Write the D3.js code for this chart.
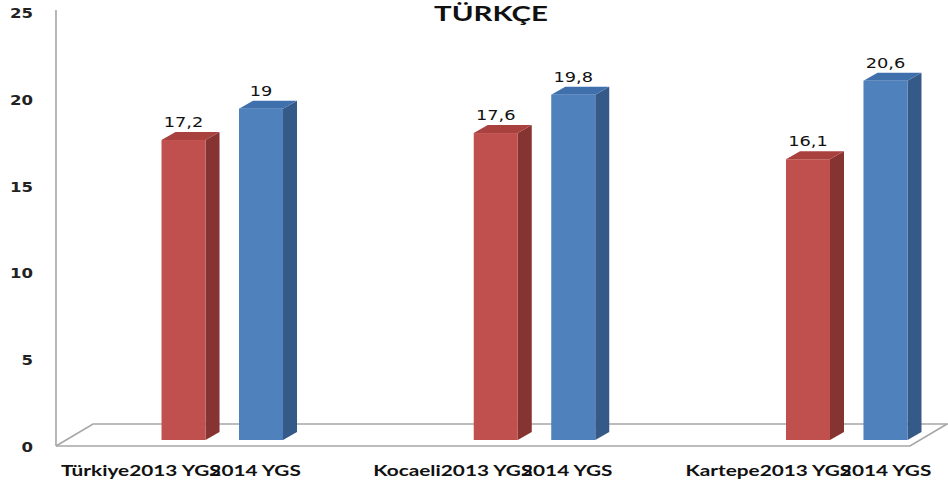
<!DOCTYPE html>
<html>
<head>
<meta charset="utf-8">
<script src="https://cdn.jsdelivr.net/npm/d3@7"></script>
<style>
  html, body { margin: 0; padding: 0; background: #ffffff; }
  svg { display: block; }
</style>
</head>
<body>
<svg id="chart" width="948" height="487"></svg>
<script>
// ---- data ----
const title = "TÜRKÇE";
const categories = ["Türkiye", "Kocaeli", "Kartepe"];
const seriesNames = ["2013 YGS", "2014 YGS"];
const values2013 = [17.2, 17.6, 16.1];
const values2014 = [19, 19.8, 20.6];
const yTicks = [0, 5, 10, 15, 20, 25];

const seriesValues = [values2013, values2014];
const frontColors = ["#C0504D", "#4F81BD"];
const topColors = ["#A9423F", "#4070AB"];
const sideColors = ["#863431", "#365A88"];

const W = 948, H = 487;
const svg = d3.select("#chart");
svg.append("rect").attr("width", W).attr("height", H).attr("fill", "#fff");

const depthX = 14, depthY = 8;

// scales
const yBar = d3.scaleLinear().domain([0, 25]).range([440, 4]);
const yLab = d3.scaleLinear().domain([0, 25]).range([447, 13]);
const x = d3.scaleBand().domain(categories).range([66.9, 1003.6]).padding(0);
const center = c => x(c) + x.bandwidth() / 2;
const xs = d3.scaleBand().domain(seriesNames).range([-61.5, 60]).paddingInner(0.432).paddingOuter(0);

const loc = d3.formatLocale({decimal: ",", thousands: ".", grouping: [3], currency: ["", ""]});
const fmt = loc.format(".1~f");

function stretch(sel, k) {
  sel.each(function () {
    const w = this.getComputedTextLength();
    this.setAttribute("textLength", w * k);
    this.setAttribute("lengthAdjust", "spacingAndGlyphs");
  });
}

// ---- floor and axis ----
const grey = "#A6A6A6";
const floorFront = yLab(0) - 1, floorBack = floorFront - 22;
const axisX = 56, floorRight = 910;
const floor = svg.append("g").attr("fill", "none").attr("stroke", grey).attr("stroke-width", 1.6);
floor.append("path").attr("d",
  `M${axisX},${floorFront} L${axisX + 37},${floorBack} L${W + 2},${floorBack}`);
floor.append("path").attr("d",
  `M${axisX},${floorFront} L${floorRight},${floorFront} L${floorRight + 37},${floorBack}`);
svg.append("line").attr("x1", axisX).attr("x2", axisX)
  .attr("y1", yLab(25) - 3).attr("y2", floorFront)
  .attr("stroke", grey).attr("stroke-width", 1.6);

// y tick labels
const ticks = svg.append("g").selectAll("text").data(yTicks).join("text")
  .attr("x", 33).attr("y", d => yLab(d))
  .attr("dy", "0.36em")
  .attr("text-anchor", "end")
  .attr("font-family", "DejaVu Sans, Verdana, sans-serif")
  .attr("font-weight", "bold").attr("font-size", 14)
  .attr("fill", "#222")
  .text(d => d);
stretch(ticks, 1.18);

// ---- bars ----
const barData = [];
categories.forEach((c, ci) => {
  seriesNames.forEach((s, si) => {
    barData.push({c, s, si, v: seriesValues[si][ci]});
  });
});

const bars = svg.append("g").selectAll("g").data(barData).join("g");
bars.each(function (d) {
  const g = d3.select(this);
  const x0 = center(d.c) + xs(d.s), x1 = x0 + xs.bandwidth();
  const yT = yBar(d.v), yB = yBar(0);
  g.append("path").attr("fill", sideColors[d.si])
    .attr("d", `M${x1},${yT} L${x1 + depthX},${yT - depthY} L${x1 + depthX},${yB - depthY} L${x1},${yB} Z`);
  g.append("path").attr("fill", topColors[d.si])
    .attr("d", `M${x0},${yT} L${x0 + depthX},${yT - depthY} L${x1 + depthX},${yT - depthY} L${x1},${yT} Z`);
  g.append("rect").attr("x", x0).attr("y", yT).attr("width", x1 - x0).attr("height", yB - yT)
    .attr("fill", frontColors[d.si]);
});

// data labels
const dl = svg.append("g").selectAll("text").data(barData).join("text")
  .attr("x", d => center(d.c) + xs(d.s) + xs.bandwidth() / 2)
  .attr("y", d => yBar(d.v) - 13)
  .attr("text-anchor", "middle")
  .attr("font-family", "DejaVu Sans, Verdana, sans-serif")
  .attr("font-size", 14)
  .attr("fill", "#111")
  .text(d => fmt(d.v));
stretch(dl, 1.27);

// ---- category labels (overlapping multi-level text, as in original) ----
const labelFont = "Lato, 'Open Sans', sans-serif";
categories.forEach(c => {
  const g = svg.append("g")
    .attr("transform", `translate(${center(c) - 162},476) scale(1.3,1)`)
    .attr("font-family", labelFont).attr("font-weight", "bold").attr("font-size", 16)
    .attr("fill", "#111");
  const t1 = g.append("text").attr("x", 0).text(c);
  const w1 = t1.node().getComputedTextLength();
  g.append("text").attr("x", w1).text(seriesNames[0]);
  const probe = g.append("text").text(seriesNames[0].slice(0, -1));
  const wp = probe.node().getComputedTextLength();
  probe.remove();
  g.append("text").attr("x", w1 + wp).text(seriesNames[1]);
});

// ---- title ----
const tt = svg.append("text")
  .attr("x", 491).attr("y", 21)
  .attr("text-anchor", "middle")
  .attr("font-family", labelFont).attr("font-weight", "bold").attr("font-size", 21)
  .attr("fill", "#111")
  .text(title);
stretch(tt, 1.4);
</script>
</body>
</html>
